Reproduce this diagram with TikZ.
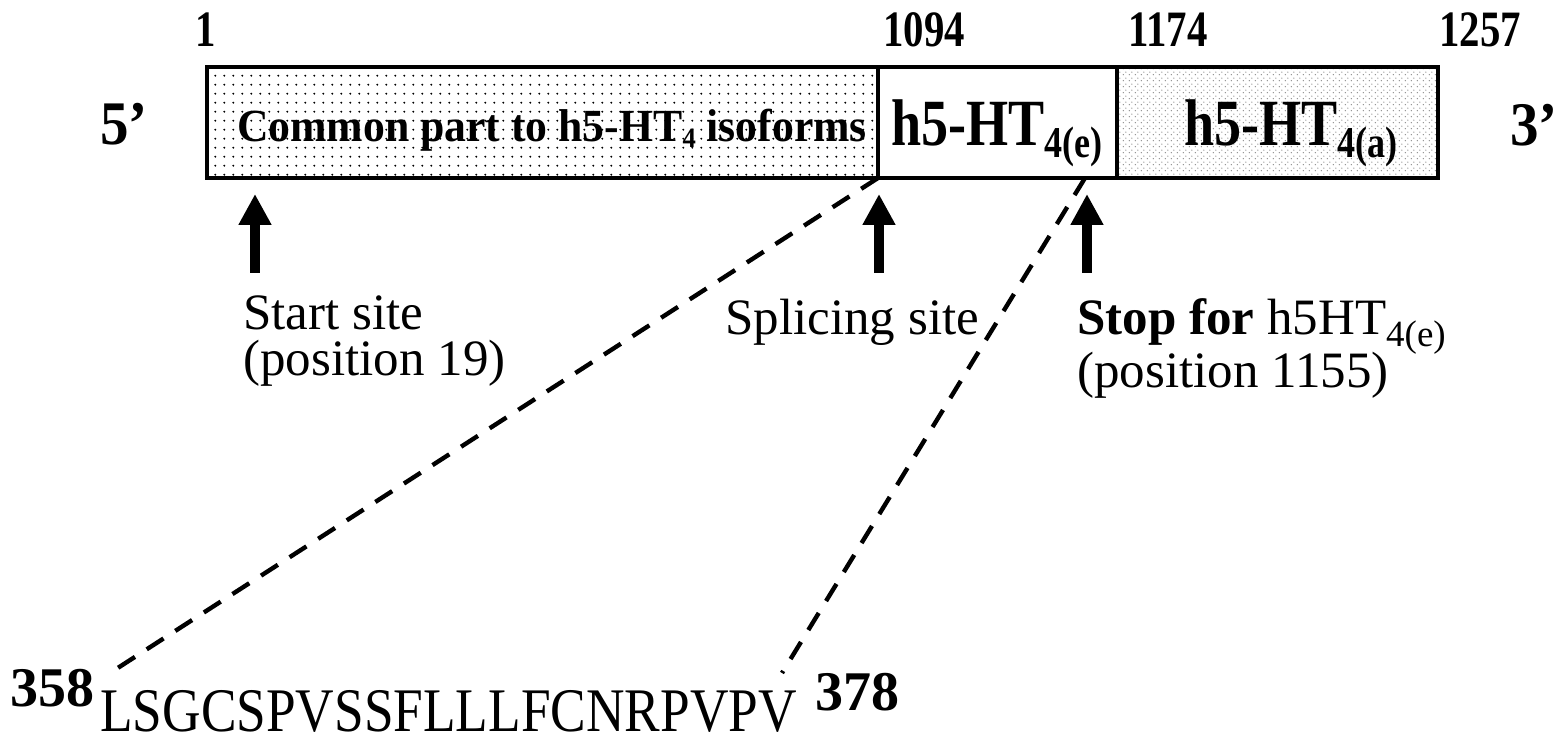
\documentclass[tikz,border=0pt]{standalone}
\usepackage{fontspec}
\setmainfont{Liberation Serif}
\usetikzlibrary{arrows.meta,patterns.meta}

\tikzdeclarepattern{
  name=bigdots, type=uncolored,
  bounding box={(0,0) and (4.4pt,4.4pt)},
  tile size={(4.4pt,4.4pt)},
  code={\pgfpathcircle{\pgfpoint{2.2pt}{2.2pt}}{0.55pt}\pgfusepath{fill}}
}
\tikzdeclarepattern{
  name=finedots, type=uncolored,
  bounding box={(0,0) and (3pt,3pt)},
  tile size={(3pt,3pt)},
  code={\pgfpathcircle{\pgfpoint{0.75pt}{0.75pt}}{0.42pt}\pgfusepath{fill}
        \pgfpathcircle{\pgfpoint{2.25pt}{2.25pt}}{0.42pt}\pgfusepath{fill}}
}

\newcommand\fsz[1]{\fontsize{#1}{#1}\selectfont}
\newcommand\lowsub[3]{\raisebox{-#1}{\fontsize{#2}{#2}\selectfont #3}}

\tikzset{
  seg/.style={draw, line width=2pt, inner sep=0pt, outer sep=0pt, anchor=north west, minimum height=55.5pt},
  poslabel/.style={font=\bfseries\fsz{25.5}, inner sep=0pt, anchor=base, xscale=0.8},
  endlabel/.style={font=\bfseries\fsz{31}, inner sep=0pt, anchor=base west, xscale=0.92},
  sitelabel/.style={font=\fsz{25.5}, inner sep=0pt, anchor=base west},
  bigarrow/.style={line width=5pt, -{Triangle[width=15.5pt,length=15.5pt]}},
  dashline/.style={line width=2.2pt, dash pattern=on 10pt off 7pt},
  numlabel/.style={font=\bfseries\fsz{28}, inner sep=0pt, anchor=base west},
}

\begin{document}
\begin{tikzpicture}[x=0.5pt, y=-0.5pt]
\useasboundingbox (0,0) rectangle (1565,742);

% position numbers
\node[poslabel] (p1) at (206,47) {1};
\node[poslabel] (p1094) at (924,47) {1094};
\node[poslabel] (p1174) at (1168,47) {1174};
\node[poslabel] (p1257) at (1480,47) {1257};

% ends
\node[endlabel] (five) at (100,145) {5’};
\node[endlabel] (three) at (1510,146) {3’};

% segments
\node[seg, minimum width=335.5pt, pattern=bigdots, pattern color=black] (seg1) at (207,67) {};
\node[seg, minimum width=119.5pt, fill=white] (seg2) at (878,67) {};
\node[seg, minimum width=160.5pt, pattern=finedots, pattern color=black!45] (seg3) at (1117,67) {};

% segment labels
\node[inner sep=0pt, anchor=base, font=\bfseries\fsz{23}, xscale=0.95] (lab1) at (552,142)
  {Common part to h5-HT\lowsub{3pt}{14}{4} isoforms};
\node[inner sep=0pt, anchor=base, font=\bfseries\fsz{33}, xscale=0.82] (lab2) at (997,146)
  {h5-HT\lowsub{6pt}{22}{4(e)}};
\node[inner sep=0pt, anchor=base, font=\bfseries\fsz{33}, xscale=0.82] (lab3) at (1291,146)
  {h5-HT\lowsub{6pt}{22}{4(a)}};

% arrows
\coordinate (a1b) at (255,273); \coordinate (a1t) at (255,194);
\coordinate (a2b) at (879,273); \coordinate (a2t) at (879,194);
\coordinate (a3b) at (1087,273); \coordinate (a3t) at (1087,194);
\draw[bigarrow] (a1b) -- (a1t);
\draw[bigarrow] (a2b) -- (a2t);
\draw[bigarrow] (a3b) -- (a3t);

% site labels
\node[sitelabel] (start) at (243,330) {Start site};
\node[sitelabel] (start2) at (243,376) {(position 19)};
\node[sitelabel] (splice) at (725,335) {Splicing site};
\node[sitelabel] (stop) at (1077,335) {\textbf{Stop for} h5HT\lowsub{6pt}{18.5}{4(e)}};
\node[sitelabel] (stop2) at (1077,388) {(position 1155)};

% sequence
\node[numlabel] (n358) at (10,707) {358};
\node[inner sep=0pt, anchor=base west, font=\fsz{31}, xscale=0.86] (seq) at (100,732) {LSGCSPVSSFLLLFCNRPVPV};
\node[numlabel] (n378) at (815,711) {378};

% dashed connectors
\coordinate (stopsite) at (1085,178);
\coordinate (d1end) at (110,673);
\coordinate (d2end) at (782,673);
\draw[dashline] (seg1.south east) -- (d1end);
\draw[dashline] (stopsite) -- (d2end);
\end{tikzpicture}
\end{document}
